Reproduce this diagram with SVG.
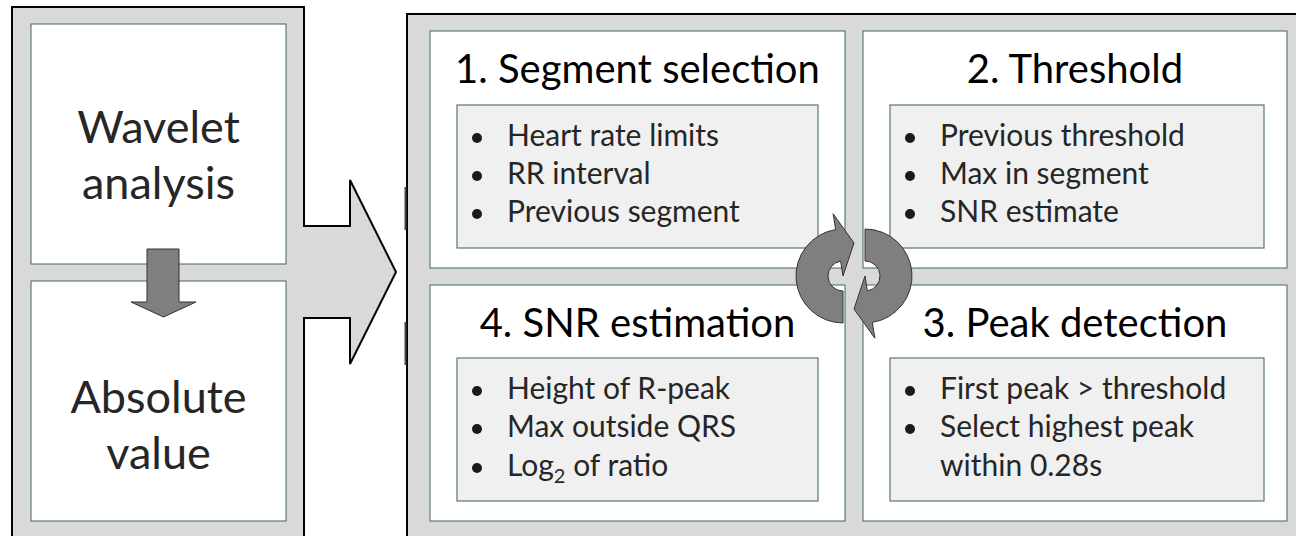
<svg xmlns="http://www.w3.org/2000/svg" width="1296" height="536" viewBox="0 0 1296 536">
  <style>
    .panel { fill: #d9d9d9; stroke: #000; stroke-width: 2; }
    .card { fill: #ffffff; stroke: #3d6b4f; stroke-width: 1; }
    .inner { fill: #f0f0f0; stroke: #557a60; stroke-width: 1.2; }
    .title { font-family: Lato, "Liberation Sans", sans-serif; font-size: 40px; fill: #000; text-anchor: middle; }
    .big { font-family: Lato, "Liberation Sans", sans-serif; font-size: 45px; fill: #262626; text-anchor: middle; }
    .item { font-family: Lato, "Liberation Sans", sans-serif; font-size: 30px; fill: #262626; }
    .dot { fill: #1a1a1a; }
    .flow { fill: #7f7f7f; stroke: #333; stroke-width: 1; }
  </style>
  <defs>
    <!-- one half of the cyclic arrow pair; the other half is this shape turned 180 degrees -->
    <path id="cycle-half" d="M843,291 L843,323 A47,47 0 0 1 835.65,229.58 L833.14,213.78 L854,243 L843,276 L840.65,261.18 A15,15 0 0 0 843,291 Z"/>
  </defs>

  <rect width="1296" height="536" fill="#fff"/>

  <!-- pre-processing panel: box with an arrow pointing into the detection loop -->
  <g id="preprocessing-panel">
    <path class="panel" d="M12,7 H304 V226 H350 V180 L396,272 L350,364 V318 H304 V545 H12 Z"/>
  </g>

  <g id="wavelet-analysis">
    <rect class="card" x="31" y="24" width="255" height="240"/>
    <text class="big" x="158.5" y="143">Wavelet</text>
    <text class="big" x="158.5" y="199">analysis</text>
  </g>

  <g id="absolute-value">
    <rect class="card" x="31" y="281" width="255" height="240"/>
    <text class="big" x="158.5" y="413">Absolute</text>
    <text class="big" x="158.5" y="469">value</text>
  </g>

  <!-- detection loop panel -->
  <g id="detection-loop-panel">
    <rect class="panel" x="407" y="14" width="900" height="540"/>
    <path d="M405.5,187 V230 M405.5,322 V365" stroke="#444" stroke-width="2" fill="none"/>
  </g>

  <g id="segment-selection">
    <rect class="card" x="430" y="31" width="415" height="237"/>
    <text class="title" x="637.5" y="83">1. Segment selection</text>
    <rect class="inner" x="457" y="105" width="361" height="143"/>
    <circle class="dot" cx="477" cy="138" r="5"/>
    <circle class="dot" cx="477" cy="176" r="5"/>
    <circle class="dot" cx="477" cy="214" r="5"/>
    <text class="item" x="507" y="146">Heart rate limits</text>
    <text class="item" x="507" y="184">RR interval</text>
    <text class="item" x="507" y="222">Previous segment</text>
  </g>

  <g id="threshold">
    <rect class="card" x="863" y="31" width="424" height="237"/>
    <text class="title" x="1075" y="83">2. Threshold</text>
    <rect class="inner" x="890" y="105" width="374" height="143"/>
    <circle class="dot" cx="910" cy="138" r="5"/>
    <circle class="dot" cx="910" cy="176" r="5"/>
    <circle class="dot" cx="910" cy="214" r="5"/>
    <text class="item" x="940" y="146">Previous threshold</text>
    <text class="item" x="940" y="184">Max in segment</text>
    <text class="item" x="940" y="222">SNR estimate</text>
  </g>

  <g id="snr-estimation">
    <rect class="card" x="430" y="285" width="415" height="236"/>
    <text class="title" x="637.5" y="337">4. SNR estimation</text>
    <rect class="inner" x="457" y="358" width="361" height="143"/>
    <circle class="dot" cx="477" cy="391" r="5"/>
    <circle class="dot" cx="477" cy="429" r="5"/>
    <circle class="dot" cx="477" cy="468" r="5"/>
    <text class="item" x="507" y="399">Height of R-peak</text>
    <text class="item" x="507" y="437">Max outside QRS</text>
    <text class="item" x="507" y="476">Log<tspan font-size="20" dy="7">2</tspan><tspan dy="-7"> of ratio</tspan></text>
  </g>

  <g id="peak-detection">
    <rect class="card" x="863" y="285" width="424" height="236"/>
    <text class="title" x="1075" y="337">3. Peak detection</text>
    <rect class="inner" x="890" y="358" width="374" height="143"/>
    <circle class="dot" cx="910" cy="391" r="5"/>
    <circle class="dot" cx="910" cy="429" r="5"/>
    <text class="item" x="940" y="399">First peak &gt; threshold</text>
    <text class="item" x="940" y="437">Select highest peak</text>
    <text class="item" x="940" y="476">within 0.28s</text>
  </g>

  <g id="connectors">
    <!-- step from wavelet analysis to absolute value -->
    <path class="flow" d="M147,249 H179 V302 H196 L163.5,317 L131,302 H147 Z"/>
    <!-- cyclic arrows joining the four loop stages -->
    <use href="#cycle-half" class="flow"/>
    <use href="#cycle-half" class="flow" transform="rotate(180 854 276)"/>
  </g>
</svg>
